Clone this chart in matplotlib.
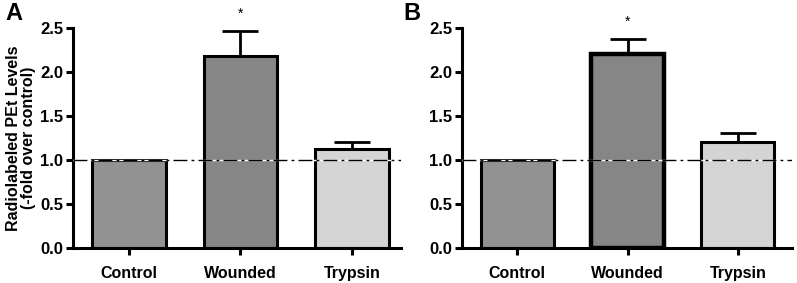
import matplotlib
matplotlib.use("Agg")
import matplotlib.pyplot as plt
import numpy as np

categories = ["Control", "Wounded", "Trypsin"]
values_a = [1.0, 2.18, 1.12]
errors_a = [0.0, 0.29, 0.09]
values_b = [1.0, 2.20, 1.20]
errors_b = [0.0, 0.17, 0.11]
yticks = [0.0, 0.5, 1.0, 1.5, 2.0, 2.5]
ylabel = "Radiolabeled PEt Levels\n(-fold over control)"
bar_colors = ["#929292", "#868686", "#d4d4d4"]

plt.rcParams['font.family'] = ['Liberation Sans', 'DejaVu Sans']

fig = plt.figure(figsize=(7.97, 2.83), dpi=100)
axA = fig.add_axes([73/797, 1-248/283, (401-73)/797, 220/283])
axB = fig.add_axes([462/797, 1-248/283, (792-462)/797, 220/283])

def draw(ax, vals, errs, xmax, edge_lws, star_y):
    x = np.arange(len(categories))
    for i in range(len(categories)):
        ax.bar(x[i], vals[i], width=0.66, color=bar_colors[i], edgecolor="black",
               linewidth=edge_lws[i], zorder=2)
        if errs[i] > 0:
            ax.errorbar(x[i], vals[i], yerr=[[0], [errs[i]]], fmt="none", ecolor="black",
                        elinewidth=2.0, capsize=13, capthick=2.0, zorder=1)
    ax.axhline(1.0, color="white", lw=1.0, zorder=3)
    ax.axhline(1.0, color="black", lw=1.0, linestyle=(0, (10, 3, 2, 3)), zorder=4)
    ax.text(1, star_y, "*", ha="center", va="center", fontsize=10)
    ax.set_xlim(-0.5, xmax)
    ax.set_ylim(0, 2.5)
    ax.set_yticks(yticks)
    ax.set_yticklabels([f"{t:.1f}" for t in yticks], fontsize=12, fontweight="bold")
    ax.set_xticks(x)
    ax.set_xticklabels(categories, fontsize=11.5, fontweight="bold")
    for s in ["top", "right"]:
        ax.spines[s].set_visible(False)
    for s in ["left", "bottom"]:
        ax.spines[s].set_linewidth(2.2)
    ax.tick_params(width=2.2, length=5, pad=2)
    ax.tick_params(axis="x", pad=8)

draw(axA, values_a, errors_a, 2.44, [2.2, 2.2, 2.2], 2.66)
draw(axB, values_b, errors_b, 2.49, [2.2, 3.2, 2.2], 2.57)
axA.set_ylabel(ylabel, fontsize=11.5, fontweight="bold", labelpad=3, linespacing=1.0)

fig.text(5/797, 1-13/283, "A", fontsize=17, fontweight="bold", va="center", ha="left")
fig.text(403/797, 1-13/283, "B", fontsize=17, fontweight="bold", va="center", ha="left")

fig.savefig("out.png", dpi=100)
